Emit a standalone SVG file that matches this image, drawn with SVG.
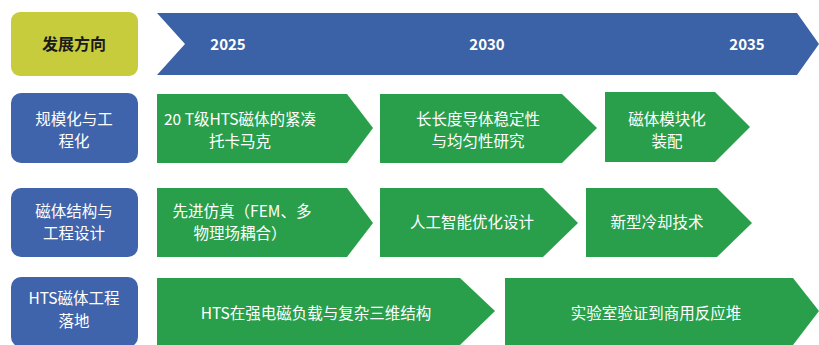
<svg xmlns="http://www.w3.org/2000/svg" width="819" height="345" viewBox="0 0 819 345">
<style>
.t{font-family:"Noto Sans CJK SC","Noto Sans",sans-serif;font-size:15.5px;fill:#fff;text-anchor:middle}
.h{fill:#1a1a1a;font-weight:bold;font-size:16px}
.yr{font-size:15px;font-weight:bold}
.g{fill:#2a9f4b}
.b{fill:#3f64ab}
</style>
<rect width="819" height="345" fill="#fff"/>
<g id="header">
<rect x="11" y="12" width="127" height="64" rx="9" fill="#c6cc3c"/>
<text class="t h" x="74" y="50">发展方向</text>
</g>
<g id="timeline">
<polygon points="157,13 797,13 819,44 797,75 157,75 185,44" fill="#3b62a7"/>
<text class="t yr" x="228" y="50">2025</text>
<text class="t yr" x="487" y="50">2030</text>
<text class="t yr" x="747" y="50">2035</text>
</g>
<g id="row1-label">
<rect class="b" x="11" y="93" width="127" height="70" rx="10"/>
<text class="t" x="74" y="124.5">规模化与工</text>
<text class="t" x="74" y="147">程化</text>
</g>
<g id="row1-a">
<polygon class="g" points="157,94 347,94 373,128 347,163 157,163"/>
<text class="t" x="240" y="124.5">20 T级HTS磁体的紧凑</text>
<text class="t" x="240" y="147">托卡马克</text>
</g>
<g id="row1-b">
<polygon class="g" points="380,94 562,94 597,128 562,163 380,163"/>
<text class="t" x="478" y="124.5">长长度导体稳定性</text>
<text class="t" x="478" y="147">与均匀性研究</text>
</g>
<g id="row1-c">
<polygon class="g" points="605,92 715,92 750,127 715,162 605,162"/>
<text class="t" x="667" y="124.5">磁体模块化</text>
<text class="t" x="667" y="147">装配</text>
</g>
<g id="row2-label">
<rect class="b" x="11" y="188" width="127" height="69" rx="10"/>
<text class="t" x="74" y="216.5">磁体结构与</text>
<text class="t" x="74" y="239">工程设计</text>
</g>
<g id="row2-a">
<polygon class="g" points="157,188 347,188 373,223 347,257 157,257"/>
<text class="t" x="242" y="216.5">先进仿真（FEM、多</text>
<text class="t" x="240" y="239">物理场耦合）</text>
</g>
<g id="row2-b">
<polygon class="g" points="380,188 543,188 578,223 543,257 380,257"/>
<text class="t" x="472" y="228">人工智能优化设计</text>
</g>
<g id="row2-c">
<polygon class="g" points="586,188 717,188 752,223 717,257 586,257"/>
<text class="t" x="657" y="228">新型冷却技术</text>
</g>
<g id="row3-label">
<rect class="b" x="11" y="277" width="127" height="70" rx="10"/>
<text class="t" x="74" y="304">HTS磁体工程</text>
<text class="t" x="74" y="327">落地</text>
</g>
<g id="row3-a">
<polygon class="g" points="157,278 460,278 495,311 460,345 157,345"/>
<text class="t" x="316" y="319">HTS在强电磁负载与复杂三维结构</text>
</g>
<g id="row3-b">
<polygon class="g" points="505,278 793,278 819,311 793,345 505,345"/>
<text class="t" x="656" y="319">实验室验证到商用反应堆</text>
</g>
<g id="connectors"></g>
</svg>
